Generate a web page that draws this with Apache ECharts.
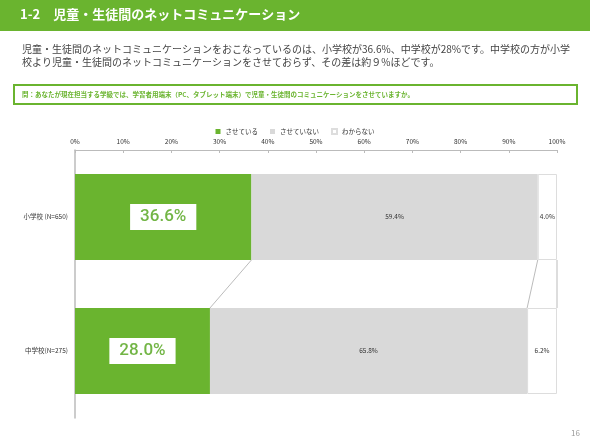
<!DOCTYPE html>
<html>
<head>
<meta charset="utf-8">
<script src="https://cdn.jsdelivr.net/npm/echarts@6/dist/echarts.min.js"></script>
<style>
  html, body { margin: 0; padding: 0; background: #fff; }
  #chart { width: 590px; height: 442px; }
</style>
</head>
<body>
<div id="chart"></div>
<script>
// data
var categories = ["小学校 (N=650)", "中学校(N=275)"];
var seriesNames = ["させている", "させていない", "わからない"];
var doing = [36.6, 28.0];
var notDoing = [59.4, 65.8];
var unknown = [4.0, 6.2];
var xTicks = [0, 10, 20, 30, 40, 50, 60, 70, 80, 90, 100];

var green = "#6ab42f";
var grey = "#d9d9d9";
var font = "'Noto Sans CJK JP', 'Noto Sans', sans-serif";
var barW = 86;

// cumulative boundaries for the connector lines between the two bars
var bounds = [];
for (var i = 0; i < doing.length; i++) {
  bounds.push([doing[i], doing[i] + notDoing[i], doing[i] + notDoing[i] + unknown[i]]);
}
var connectorData = [0, 1, 2].map(function (k) {
  return [bounds[0][k], bounds[1][k]];
});

var chart = echarts.init(document.getElementById("chart"));
chart.setOption({
  animation: false,
  textStyle: { fontFamily: font },
  graphic: [
    { type: "rect", shape: { x: 0, y: 0, width: 590, height: 31 }, style: { fill: green } },
    {
      type: "text", left: 20, top: 8,
      style: { text: "1-2　児童・生徒間のネットコミュニケーション", fill: "#fff", font: "bold 13px " + font }
    },
    {
      type: "text", left: 22, top: 42,
      style: {
        text: "児童・生徒間のネットコミュニケーションをおこなっているのは、小学校が36.6%、中学校が28%です。中学校の方が小学\n校より児童・生徒間のネットコミュニケーションをさせておらず、その差は約９%ほどです。",
        fill: "#444", font: "10px " + font, lineHeight: 13.5
      }
    },
    {
      type: "rect", shape: { x: 14, y: 85, width: 563, height: 19 },
      style: { fill: "#fff", stroke: green, lineWidth: 2 }
    },
    {
      type: "text", left: 22, top: 91,
      style: {
        text: "問：あなたが現在担当する学級では、学習者用端末（PC、タブレット端末）で児童・生徒間のコミュニケーションをさせていますか。",
        fill: green, font: "bold 6.5px " + font
      }
    },
    {
      type: "text", right: 10, top: 429,
      style: { text: "16", fill: "#999", font: "8px " + font }
    }
  ],
  legend: {
    data: seriesNames.map(function (n) { return { name: n, icon: "rect" }; }),
    top: 123,
    left: "center",
    itemWidth: 5,
    itemHeight: 5,
    itemGap: 12,
    textStyle: { fontSize: 6.5, color: "#333", fontFamily: font }
  },
  grid: { left: 75, right: 33, top: 150, bottom: 24 },
  xAxis: {
    type: "value",
    position: "top",
    min: 0,
    max: 100,
    interval: 10,
    axisLine: { show: true, lineStyle: { color: "#bbb" } },
    axisTick: { show: true, inside: true, length: 3, lineStyle: { color: "#bbb" } },
    axisLabel: {
      fontSize: 6.5, color: "#333", margin: 5,
      formatter: function (v) { return xTicks.indexOf(v) >= 0 ? v + "%" : ""; }
    },
    splitLine: { show: false }
  },
  yAxis: {
    type: "category",
    inverse: true,
    data: categories,
    axisLine: { show: true, lineStyle: { color: "#bbb", width: 1.5 } },
    axisTick: { show: false },
    axisLabel: { fontSize: 6.5, color: "#333", margin: 7 }
  },
  series: [
    {
      name: seriesNames[0], type: "bar", stack: "t", data: doing, barWidth: barW,
      itemStyle: { color: green },
      label: {
        show: true, position: "inside",
        formatter: function (p) { return p.value.toFixed(1) + "%"; },
        backgroundColor: "#fff", padding: [5, 10, 4, 10],
        color: "#72b545", fontSize: 17, fontWeight: 500, fontFamily: "Roboto, sans-serif"
      }
    },
    {
      name: seriesNames[1], type: "bar", stack: "t", data: notDoing, barWidth: barW,
      itemStyle: { color: grey },
      label: {
        show: true, position: "inside", fontSize: 6.5, color: "#333",
        formatter: function (p) { return p.value.toFixed(1) + "%"; }
      }
    },
    {
      name: seriesNames[2], type: "bar", stack: "t", data: unknown, barWidth: barW,
      itemStyle: { color: "#fff", borderColor: "#ddd", borderWidth: 1 },
      label: {
        show: true, position: "inside", fontSize: 6.5, color: "#333",
        formatter: function (p) { return p.value.toFixed(1) + "%"; }
      }
    },
    {
      type: "custom",
      silent: true,
      data: connectorData,
      renderItem: function (params, api) {
        var a = api.coord([api.value(0), 0]);
        var b = api.coord([api.value(1), 1]);
        return {
          type: "line",
          shape: { x1: a[0], y1: a[1] + barW / 2, x2: b[0], y2: b[1] - barW / 2 },
          style: { stroke: "#aaa", lineWidth: 0.8 }
        };
      }
    }
  ]
});
</script>
</body>
</html>
